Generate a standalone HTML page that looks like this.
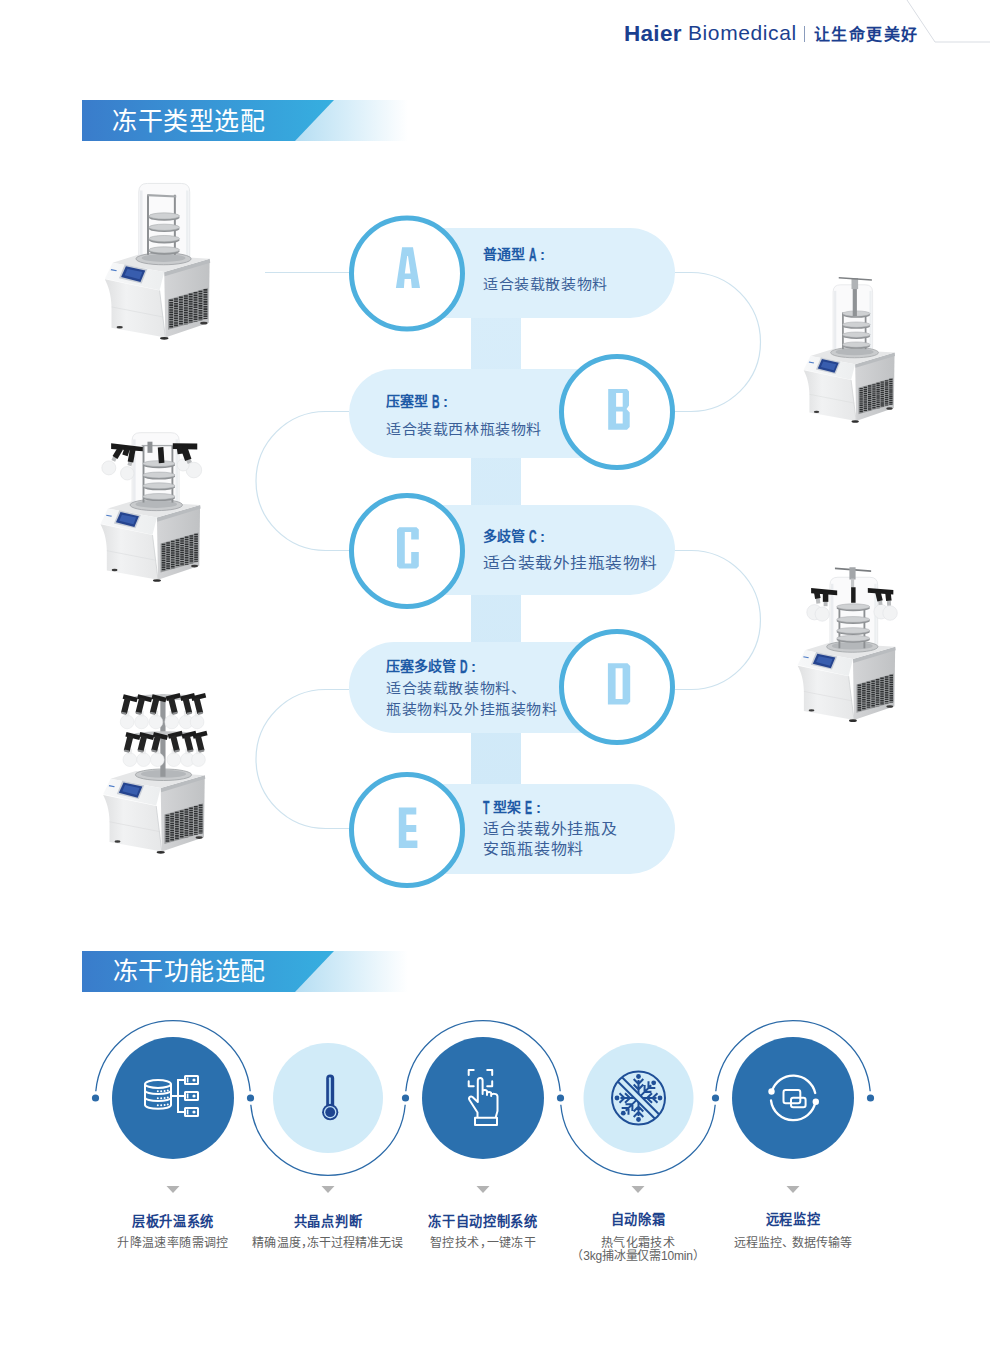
<!DOCTYPE html>
<html lang="zh-CN">
<head>
<meta charset="utf-8">
<style>
html,body{margin:0;padding:0;background:#fff;}
body{width:990px;height:1364px;position:relative;overflow:hidden;font-family:"Liberation Sans",sans-serif;}
.abs{position:absolute;white-space:nowrap;}
svg.main{position:absolute;left:0;top:0;}
.bar-t{color:#fff;font-size:25px;font-weight:300;letter-spacing:0.5px;line-height:1;}
.pt{color:#1d5aa6;font-size:14px;font-weight:900;line-height:1;}
.lt{display:inline-block;font-family:"Liberation Sans",sans-serif;font-weight:700;font-size:19px;line-height:15px;transform:scaleX(0.55);transform-origin:0 0;width:7px;margin-left:4px;vertical-align:top;-webkit-text-stroke:0.4px;}
.co{display:inline-block;margin-left:4px;font-family:"Liberation Sans",sans-serif;font-weight:700;font-size:15px;line-height:15px;vertical-align:top;}
.pd{color:#3a5f98;font-size:15px;font-weight:400;line-height:23.3px;letter-spacing:0.6px;transform:scaleY(0.9);transform-origin:0 0;}
.ft{color:#1d428c;font-size:13.2px;font-weight:900;line-height:1;letter-spacing:0.7px;text-align:center;width:200px;}
.fd{color:#626262;font-size:12px;letter-spacing:0.4px;font-weight:400;line-height:12.5px;text-align:center;width:200px;}
</style>
</head>
<body>
<svg class="main" width="990" height="1364" viewBox="0 0 990 1364">
<defs>
  <linearGradient id="barDark" x1="0" x2="1" y1="0" y2="0">
    <stop offset="0" stop-color="#3a7ccb"/>
    <stop offset="1" stop-color="#36afe0"/>
  </linearGradient>
  <linearGradient id="barLight" gradientUnits="userSpaceOnUse" x1="290" x2="408" y1="0" y2="0">
    <stop offset="0" stop-color="#b2dcf2"/>
    <stop offset="0.5" stop-color="#d8eef9"/>
    <stop offset="1" stop-color="#ffffff"/>
  </linearGradient>
  <linearGradient id="vbar" x1="0" x2="0" y1="0" y2="1">
    <stop offset="0" stop-color="#d8edfa"/>
    <stop offset="1" stop-color="#d0e9f8"/>
  </linearGradient>
</defs>

<!-- header -->
<polyline points="907,0 935,42 990,42" fill="none" stroke="#d9dde3" stroke-width="1"/>

<!-- title bar 1 -->
<polygon points="295,100 410,100 410,141 268,141" fill="url(#barLight)"/>
<polygon points="82,100 334,100 295,141 82,141" fill="url(#barDark)"/>
<!-- title bar 2 -->
<polygon points="295,951 410,951 410,992 268,992" fill="url(#barLight)"/>
<polygon points="82,951 334,951 295,992 82,992" fill="url(#barDark)"/>

<!-- timeline connectors -->
<g fill="none" stroke="#cde2ee" stroke-width="1.2">
  <line x1="265" y1="272.5" x2="350" y2="272.5"/>
  <path d="M674,272.5 H691 A69.5,69.5 0 0 1 691,411.5 H675"/>
  <path d="M349,411.5 H325.5 A69.5,69.5 0 0 0 325.5,550.5 H349"/>
  <path d="M674,550.5 H691 A69.5,69.5 0 0 1 691,689.5 H675"/>
  <path d="M349,689.5 H325.5 A69.5,69.5 0 0 0 325.5,828.5 H349"/>
</g>
<!-- vertical bar -->
<rect x="471" y="300" width="50" height="500" fill="url(#vbar)"/>
<!-- pills -->
<g fill="#ddf0fb">
  <rect x="362" y="228" width="313" height="90" rx="45"/>
  <rect x="349" y="369" width="313" height="89" rx="44.5"/>
  <rect x="362" y="505" width="313" height="90" rx="45"/>
  <rect x="349" y="642" width="313" height="91" rx="45.5"/>
  <rect x="362" y="784" width="313" height="90" rx="45"/>
</g>
<!-- circles -->
<g fill="#fff" stroke="#4eb0de" stroke-width="5">
  <circle cx="407" cy="273.5" r="55.5"/>
  <circle cx="617" cy="412" r="55.5"/>
  <circle cx="407" cy="551" r="55.5"/>
  <circle cx="617" cy="687" r="55.5"/>
  <circle cx="407" cy="830" r="55.5"/>
</g>

<!--PRODUCTS-->
<defs><linearGradient id="pSide" x1="0" x2="1" y1="0" y2="0"><stop offset="0" stop-color="#d3d4d6"/><stop offset="1" stop-color="#c0c2c4"/></linearGradient>
<linearGradient id="pPanel" x1="0" x2="1" y1="0" y2="0"><stop offset="0" stop-color="#f7f8f9"/><stop offset="1" stop-color="#eceeef"/></linearGradient>
<linearGradient id="pFront" x1="0" x2="1" y1="0" y2="0"><stop offset="0" stop-color="#dfe0e1"/><stop offset="0.35" stop-color="#f1f2f3"/><stop offset="1" stop-color="#e6e7e8"/></linearGradient></defs>
<g transform="translate(90,170) scale(0.14144)">
<polygon points="525,725 846,632 840,1080 533,1185" fill="url(#pSide)"/>
<polygon points="525,722 846,628 850,655 528,752" fill="#b9bcbf"/>
<polygon points="160,655 345,598 846,628 525,722" fill="#e6e7e8"/>
<polygon points="105,768 160,655 525,722 492,850" fill="url(#pPanel)"/>
<path d="M105,772 L492,852 L533,1185 L152,1116 L152,965 C150,880 130,820 105,772 Z" fill="url(#pFront)"/>
<path d="M492,852 L533,1185" stroke="#d0d2d4" stroke-width="6" fill="none"/>
<path d="M152,968 L520,1040" stroke="#d8d9db" stroke-width="4" fill="none"/>
<polygon points="205,765 245,668 405,702 365,802" fill="#c9ced6"/>
<polygon points="220,757 254,681 391,711 357,792" fill="#25448f"/>
<polygon points="245,745 265,700 370,722 350,772" fill="#3d64b5" opacity="0.8"/>
<polygon points="150,700 190,708 186,716 146,708" fill="#4d7cc7"/>
<polygon points="552,915 834,832 834,1050 552,1130" fill="#9a9c9e"/>
<g stroke="#2f3133" stroke-width="27" stroke-dasharray="11 6"><line x1="574" y1="916" x2="574" y2="1119"/><line x1="608" y1="906" x2="608" y2="1109"/><line x1="643" y1="895" x2="643" y2="1100"/><line x1="678" y1="885" x2="678" y2="1090"/><line x1="712" y1="874" x2="712" y2="1081"/><line x1="746" y1="863" x2="746" y2="1072"/><line x1="781" y1="853" x2="781" y2="1062"/><line x1="816" y1="842" x2="816" y2="1053"/></g>
<ellipse cx="210" cy="1112" rx="22" ry="9" fill="#3a3a3a"/>
<ellipse cx="525" cy="1190" rx="30" ry="10" fill="#2e2e2e"/>
<ellipse cx="805" cy="1083" rx="26" ry="10" fill="#3a3a3a"/>
<path d="M345,640 V155 Q345,95 405,95 H645 Q705,95 705,155 V640 Z" fill="#f5f6f7" fill-opacity="0.5" stroke="#e6e8ea" stroke-width="7"/><rect x="353" y="145" width="18" height="475" fill="#e3e6e9" opacity="0.7"/><rect x="679" y="145" width="18" height="475" fill="#e6e9ec" opacity="0.7"/>
<ellipse cx="520" cy="628" rx="195" ry="42" fill="#c9cbcd" stroke="#9fa2a5" stroke-width="6"/><ellipse cx="520" cy="622" rx="155" ry="28" fill="#b4b7ba"/>
<rect x="403" y="175" width="14" height="425" fill="#8d9093"/>
<rect x="593" y="175" width="14" height="425" fill="#8d9093"/>
<ellipse cx="525" cy="335" rx="108" ry="24" fill="#8f9295"/>
<ellipse cx="525" cy="325" rx="108" ry="22" fill="#cfd1d3" stroke="#a4a7aa" stroke-width="4"/>
<ellipse cx="525" cy="415" rx="108" ry="24" fill="#8f9295"/>
<ellipse cx="525" cy="405" rx="108" ry="22" fill="#cfd1d3" stroke="#a4a7aa" stroke-width="4"/>
<ellipse cx="525" cy="495" rx="108" ry="24" fill="#8f9295"/>
<ellipse cx="525" cy="485" rx="108" ry="22" fill="#cfd1d3" stroke="#a4a7aa" stroke-width="4"/>
<ellipse cx="525" cy="575" rx="108" ry="24" fill="#8f9295"/>
<ellipse cx="525" cy="565" rx="108" ry="22" fill="#cfd1d3" stroke="#a4a7aa" stroke-width="4"/>
<polygon points="405,170 610,180 610,195 405,185" fill="#a5a8ab"/>
</g>
<g transform="translate(790.8,275.6) scale(0.12263)">
<polygon points="525,725 846,632 840,1080 533,1185" fill="url(#pSide)"/>
<polygon points="525,722 846,628 850,655 528,752" fill="#b9bcbf"/>
<polygon points="160,655 345,598 846,628 525,722" fill="#e6e7e8"/>
<polygon points="105,768 160,655 525,722 492,850" fill="url(#pPanel)"/>
<path d="M105,772 L492,852 L533,1185 L152,1116 L152,965 C150,880 130,820 105,772 Z" fill="url(#pFront)"/>
<path d="M492,852 L533,1185" stroke="#d0d2d4" stroke-width="6" fill="none"/>
<path d="M152,968 L520,1040" stroke="#d8d9db" stroke-width="4" fill="none"/>
<polygon points="205,765 245,668 405,702 365,802" fill="#c9ced6"/>
<polygon points="220,757 254,681 391,711 357,792" fill="#25448f"/>
<polygon points="245,745 265,700 370,722 350,772" fill="#3d64b5" opacity="0.8"/>
<polygon points="150,700 190,708 186,716 146,708" fill="#4d7cc7"/>
<polygon points="552,915 834,832 834,1050 552,1130" fill="#9a9c9e"/>
<g stroke="#2f3133" stroke-width="27" stroke-dasharray="11 6"><line x1="574" y1="916" x2="574" y2="1119"/><line x1="608" y1="906" x2="608" y2="1109"/><line x1="643" y1="895" x2="643" y2="1100"/><line x1="678" y1="885" x2="678" y2="1090"/><line x1="712" y1="874" x2="712" y2="1081"/><line x1="746" y1="863" x2="746" y2="1072"/><line x1="781" y1="853" x2="781" y2="1062"/><line x1="816" y1="842" x2="816" y2="1053"/></g>
<ellipse cx="210" cy="1112" rx="22" ry="9" fill="#3a3a3a"/>
<ellipse cx="525" cy="1190" rx="30" ry="10" fill="#2e2e2e"/>
<ellipse cx="805" cy="1083" rx="26" ry="10" fill="#3a3a3a"/>
<path d="M345,620 V135 Q345,75 405,75 H607 Q667,75 667,135 V620 Z" fill="#f5f6f7" fill-opacity="0.5" stroke="#e6e8ea" stroke-width="7"/><rect x="353" y="125" width="18" height="475" fill="#e3e6e9" opacity="0.7"/><rect x="641" y="125" width="18" height="475" fill="#e6e9ec" opacity="0.7"/>
<ellipse cx="520" cy="628" rx="195" ry="42" fill="#c9cbcd" stroke="#9fa2a5" stroke-width="6"/><ellipse cx="520" cy="622" rx="155" ry="28" fill="#b4b7ba"/>
<rect x="418" y="300" width="14" height="300" fill="#8d9093"/>
<rect x="603" y="300" width="14" height="300" fill="#8d9093"/>
<ellipse cx="535" cy="320" rx="112" ry="24" fill="#8f9295"/>
<ellipse cx="535" cy="310" rx="112" ry="22" fill="#cfd1d3" stroke="#a4a7aa" stroke-width="4"/>
<ellipse cx="535" cy="410" rx="112" ry="24" fill="#8f9295"/>
<ellipse cx="535" cy="400" rx="112" ry="22" fill="#cfd1d3" stroke="#a4a7aa" stroke-width="4"/>
<ellipse cx="535" cy="492" rx="112" ry="24" fill="#8f9295"/>
<ellipse cx="535" cy="482" rx="112" ry="22" fill="#cfd1d3" stroke="#a4a7aa" stroke-width="4"/>
<ellipse cx="535" cy="573" rx="112" ry="24" fill="#8f9295"/>
<ellipse cx="535" cy="563" rx="112" ry="22" fill="#cfd1d3" stroke="#a4a7aa" stroke-width="4"/>
<rect x="505" y="30" width="34" height="300" fill="#8f9295"/>
<rect x="495" y="20" width="54" height="90" fill="#b0b3b6"/>
<polygon points="391,12 661,30 661,42 391,24" fill="#7e8184"/>
</g>
<g transform="translate(86.4,420.6) scale(0.13437)">
<polygon points="525,725 846,632 840,1080 533,1185" fill="url(#pSide)"/>
<polygon points="525,722 846,628 850,655 528,752" fill="#b9bcbf"/>
<polygon points="160,655 345,598 846,628 525,722" fill="#e6e7e8"/>
<polygon points="105,768 160,655 525,722 492,850" fill="url(#pPanel)"/>
<path d="M105,772 L492,852 L533,1185 L152,1116 L152,965 C150,880 130,820 105,772 Z" fill="url(#pFront)"/>
<path d="M492,852 L533,1185" stroke="#d0d2d4" stroke-width="6" fill="none"/>
<path d="M152,968 L520,1040" stroke="#d8d9db" stroke-width="4" fill="none"/>
<polygon points="205,765 245,668 405,702 365,802" fill="#c9ced6"/>
<polygon points="220,757 254,681 391,711 357,792" fill="#25448f"/>
<polygon points="245,745 265,700 370,722 350,772" fill="#3d64b5" opacity="0.8"/>
<polygon points="150,700 190,708 186,716 146,708" fill="#4d7cc7"/>
<polygon points="552,915 834,832 834,1050 552,1130" fill="#9a9c9e"/>
<g stroke="#2f3133" stroke-width="27" stroke-dasharray="11 6"><line x1="574" y1="916" x2="574" y2="1119"/><line x1="608" y1="906" x2="608" y2="1109"/><line x1="643" y1="895" x2="643" y2="1100"/><line x1="678" y1="885" x2="678" y2="1090"/><line x1="712" y1="874" x2="712" y2="1081"/><line x1="746" y1="863" x2="746" y2="1072"/><line x1="781" y1="853" x2="781" y2="1062"/><line x1="816" y1="842" x2="816" y2="1053"/></g>
<ellipse cx="210" cy="1112" rx="22" ry="9" fill="#3a3a3a"/>
<ellipse cx="525" cy="1190" rx="30" ry="10" fill="#2e2e2e"/>
<ellipse cx="805" cy="1083" rx="26" ry="10" fill="#3a3a3a"/>
<path d="M340,625 V150 Q340,90 400,90 H630 Q690,90 690,150 V625 Z" fill="#f5f6f7" fill-opacity="0.5" stroke="#e6e8ea" stroke-width="7"/><rect x="348" y="140" width="18" height="465" fill="#e3e6e9" opacity="0.7"/><rect x="664" y="140" width="18" height="465" fill="#e6e9ec" opacity="0.7"/>
<ellipse cx="520" cy="628" rx="195" ry="42" fill="#c9cbcd" stroke="#9fa2a5" stroke-width="6"/><ellipse cx="520" cy="622" rx="155" ry="28" fill="#b4b7ba"/>
<rect x="418" y="185" width="14" height="425" fill="#8d9093"/>
<rect x="633" y="185" width="14" height="425" fill="#8d9093"/>
<ellipse cx="540" cy="330" rx="120" ry="24" fill="#8f9295"/>
<ellipse cx="540" cy="320" rx="120" ry="22" fill="#cfd1d3" stroke="#a4a7aa" stroke-width="4"/>
<ellipse cx="540" cy="415" rx="120" ry="24" fill="#8f9295"/>
<ellipse cx="540" cy="405" rx="120" ry="22" fill="#cfd1d3" stroke="#a4a7aa" stroke-width="4"/>
<ellipse cx="540" cy="495" rx="120" ry="24" fill="#8f9295"/>
<ellipse cx="540" cy="485" rx="120" ry="22" fill="#cfd1d3" stroke="#a4a7aa" stroke-width="4"/>
<ellipse cx="540" cy="575" rx="120" ry="24" fill="#8f9295"/>
<ellipse cx="540" cy="565" rx="120" ry="22" fill="#cfd1d3" stroke="#a4a7aa" stroke-width="4"/>
<line x1="411" y1="186" x2="643" y2="186" stroke="#a8abae" stroke-width="10"/>
<circle cx="167" cy="352" r="52" fill="#f2f3f4" stroke="#e2e4e6" stroke-width="5"/>
<circle cx="304" cy="392" r="50" fill="#f2f3f4" stroke="#e2e4e6" stroke-width="5"/>
<circle cx="800" cy="368" r="58" fill="#f2f3f4" stroke="#e2e4e6" stroke-width="5"/>
<circle cx="720" cy="330" r="45" fill="#f2f3f4" stroke="#e2e4e6" stroke-width="5"/>
<line x1="213" y1="272" x2="200" y2="300" stroke="#b9bbbd" stroke-width="30"/>
<line x1="328" y1="305" x2="320" y2="335" stroke="#b9bbbd" stroke-width="30"/>
<line x1="758" y1="289" x2="770" y2="315" stroke="#b9bbbd" stroke-width="34"/>
<polygon points="184,169 420,196 420,228 184,212" fill="#1a1a1a"/>
<line x1="254" y1="206" x2="213" y2="275" stroke="#1c1c1c" stroke-width="42"/>
<line x1="304" y1="206" x2="287" y2="258" stroke="#1c1c1c" stroke-width="42"/>
<line x1="345" y1="214" x2="328" y2="308" stroke="#1c1c1c" stroke-width="42"/>
<line x1="473" y1="157" x2="473" y2="240" stroke="#8e9194" stroke-width="37"/>
<line x1="552" y1="198" x2="560" y2="316" stroke="#1c1c1c" stroke-width="42"/>
<polygon points="643,169 825,171 825,215 643,211" fill="#1a1a1a"/>
<line x1="725" y1="198" x2="758" y2="292" stroke="#1c1c1c" stroke-width="50"/>
<line x1="692" y1="190" x2="700" y2="248" stroke="#1c1c1c" stroke-width="42"/>
</g>
<g transform="translate(783.9,564.1) scale(0.13154)">
<polygon points="525,725 846,632 840,1080 533,1185" fill="url(#pSide)"/>
<polygon points="525,722 846,628 850,655 528,752" fill="#b9bcbf"/>
<polygon points="160,655 345,598 846,628 525,722" fill="#e6e7e8"/>
<polygon points="105,768 160,655 525,722 492,850" fill="url(#pPanel)"/>
<path d="M105,772 L492,852 L533,1185 L152,1116 L152,965 C150,880 130,820 105,772 Z" fill="url(#pFront)"/>
<path d="M492,852 L533,1185" stroke="#d0d2d4" stroke-width="6" fill="none"/>
<path d="M152,968 L520,1040" stroke="#d8d9db" stroke-width="4" fill="none"/>
<polygon points="205,765 245,668 405,702 365,802" fill="#c9ced6"/>
<polygon points="220,757 254,681 391,711 357,792" fill="#25448f"/>
<polygon points="245,745 265,700 370,722 350,772" fill="#3d64b5" opacity="0.8"/>
<polygon points="150,700 190,708 186,716 146,708" fill="#4d7cc7"/>
<polygon points="552,915 834,832 834,1050 552,1130" fill="#9a9c9e"/>
<g stroke="#2f3133" stroke-width="27" stroke-dasharray="11 6"><line x1="574" y1="916" x2="574" y2="1119"/><line x1="608" y1="906" x2="608" y2="1109"/><line x1="643" y1="895" x2="643" y2="1100"/><line x1="678" y1="885" x2="678" y2="1090"/><line x1="712" y1="874" x2="712" y2="1081"/><line x1="746" y1="863" x2="746" y2="1072"/><line x1="781" y1="853" x2="781" y2="1062"/><line x1="816" y1="842" x2="816" y2="1053"/></g>
<ellipse cx="210" cy="1112" rx="22" ry="9" fill="#3a3a3a"/>
<ellipse cx="525" cy="1190" rx="30" ry="10" fill="#2e2e2e"/>
<ellipse cx="805" cy="1083" rx="26" ry="10" fill="#3a3a3a"/>
<path d="M350,650 V160 Q350,100 410,100 H653 Q713,100 713,160 V650 Z" fill="#f5f6f7" fill-opacity="0.5" stroke="#e6e8ea" stroke-width="7"/><rect x="358" y="150" width="18" height="480" fill="#e3e6e9" opacity="0.7"/><rect x="687" y="150" width="18" height="480" fill="#e6e9ec" opacity="0.7"/>
<ellipse cx="520" cy="628" rx="195" ry="42" fill="#c9cbcd" stroke="#9fa2a5" stroke-width="6"/><ellipse cx="520" cy="622" rx="155" ry="28" fill="#b4b7ba"/>
<rect x="415" y="320" width="14" height="320" fill="#8d9093"/>
<rect x="605" y="320" width="14" height="320" fill="#8d9093"/>
<ellipse cx="527" cy="334" rx="126" ry="24" fill="#8f9295"/>
<ellipse cx="527" cy="324" rx="126" ry="22" fill="#cfd1d3" stroke="#a4a7aa" stroke-width="4"/>
<ellipse cx="527" cy="431" rx="126" ry="24" fill="#8f9295"/>
<ellipse cx="527" cy="421" rx="126" ry="22" fill="#cfd1d3" stroke="#a4a7aa" stroke-width="4"/>
<ellipse cx="527" cy="515" rx="126" ry="24" fill="#8f9295"/>
<ellipse cx="527" cy="505" rx="126" ry="22" fill="#cfd1d3" stroke="#a4a7aa" stroke-width="4"/>
<ellipse cx="527" cy="574" rx="126" ry="24" fill="#8f9295"/>
<ellipse cx="527" cy="564" rx="126" ry="22" fill="#cfd1d3" stroke="#a4a7aa" stroke-width="4"/>
<polygon points="388,26 663,47 663,60 388,39" fill="#7a7d80"/>
<rect x="498" y="24" width="47" height="93" fill="#a3a6a9"/>
<rect x="510" y="110" width="24" height="70" fill="#c4c6c8"/>
<rect x="511" y="176" width="34" height="118" fill="#1c1c1c"/>
<circle cx="232" cy="366" r="58" fill="#f2f3f4" stroke="#e2e4e6" stroke-width="5"/>
<circle cx="291" cy="380" r="54" fill="#f2f3f4" stroke="#e2e4e6" stroke-width="5"/>
<circle cx="739" cy="362" r="55" fill="#f2f3f4" stroke="#e2e4e6" stroke-width="5"/>
<circle cx="807" cy="372" r="55" fill="#f2f3f4" stroke="#e2e4e6" stroke-width="5"/>
<line x1="257" y1="260" x2="262" y2="300" stroke="#b9bbbd" stroke-width="30"/>
<line x1="317" y1="285" x2="317" y2="320" stroke="#b9bbbd" stroke-width="30"/>
<line x1="731" y1="277" x2="735" y2="310" stroke="#b9bbbd" stroke-width="30"/>
<line x1="798" y1="277" x2="800" y2="315" stroke="#b9bbbd" stroke-width="30"/>
<polygon points="207,182 405,200 405,236 207,222" fill="#1a1a1a"/>
<line x1="249" y1="209" x2="258" y2="262" stroke="#1c1c1c" stroke-width="42"/>
<line x1="317" y1="209" x2="317" y2="287" stroke="#1c1c1c" stroke-width="42"/>
<polygon points="638,182 832,196 832,232 638,218" fill="#1a1a1a"/>
<line x1="714" y1="209" x2="731" y2="279" stroke="#1c1c1c" stroke-width="42"/>
<line x1="790" y1="209" x2="798" y2="279" stroke="#1c1c1c" stroke-width="42"/>
</g>
<g transform="translate(88.7,689) scale(0.1372)">
<polygon points="525,725 846,632 840,1080 533,1185" fill="url(#pSide)"/>
<polygon points="525,722 846,628 850,655 528,752" fill="#b9bcbf"/>
<polygon points="160,655 345,598 846,628 525,722" fill="#e6e7e8"/>
<polygon points="105,768 160,655 525,722 492,850" fill="url(#pPanel)"/>
<path d="M105,772 L492,852 L533,1185 L152,1116 L152,965 C150,880 130,820 105,772 Z" fill="url(#pFront)"/>
<path d="M492,852 L533,1185" stroke="#d0d2d4" stroke-width="6" fill="none"/>
<path d="M152,968 L520,1040" stroke="#d8d9db" stroke-width="4" fill="none"/>
<polygon points="205,765 245,668 405,702 365,802" fill="#c9ced6"/>
<polygon points="220,757 254,681 391,711 357,792" fill="#25448f"/>
<polygon points="245,745 265,700 370,722 350,772" fill="#3d64b5" opacity="0.8"/>
<polygon points="150,700 190,708 186,716 146,708" fill="#4d7cc7"/>
<polygon points="552,915 834,832 834,1050 552,1130" fill="#9a9c9e"/>
<g stroke="#2f3133" stroke-width="27" stroke-dasharray="11 6"><line x1="574" y1="916" x2="574" y2="1119"/><line x1="608" y1="906" x2="608" y2="1109"/><line x1="643" y1="895" x2="643" y2="1100"/><line x1="678" y1="885" x2="678" y2="1090"/><line x1="712" y1="874" x2="712" y2="1081"/><line x1="746" y1="863" x2="746" y2="1072"/><line x1="781" y1="853" x2="781" y2="1062"/><line x1="816" y1="842" x2="816" y2="1053"/></g>
<ellipse cx="210" cy="1112" rx="22" ry="9" fill="#3a3a3a"/>
<ellipse cx="525" cy="1190" rx="30" ry="10" fill="#2e2e2e"/>
<ellipse cx="805" cy="1083" rx="26" ry="10" fill="#3a3a3a"/>
<ellipse cx="545" cy="625" rx="205" ry="42" fill="#c9cbcd" stroke="#9fa2a5" stroke-width="6"/><ellipse cx="545" cy="619" rx="165" ry="28" fill="#b4b7ba"/>
<rect x="522" y="40" width="38" height="600" fill="#94979a"/>
<ellipse cx="560" cy="60" rx="230" ry="22" fill="#c4c6c8"/>
<ellipse cx="560" cy="330" rx="230" ry="22" fill="#c4c6c8"/>
<circle cx="280" cy="240" r="50" fill="#f3f4f5" stroke="#e4e6e8" stroke-width="4"/>
<rect x="264" y="160" width="32" height="40" fill="#ebeced"/>
<g transform="rotate(14 280 85)">
<rect x="245" y="45" width="105" height="34" fill="#1c1c1c"/>
<rect x="258" y="65" width="44" height="115" fill="#242424"/>
<rect x="262" y="172" width="36" height="16" fill="#8a8c8e"/>
</g>
<circle cx="385" cy="240" r="50" fill="#f3f4f5" stroke="#e4e6e8" stroke-width="4"/>
<rect x="369" y="160" width="32" height="40" fill="#ebeced"/>
<g transform="rotate(14 385 85)">
<rect x="350" y="45" width="105" height="34" fill="#1c1c1c"/>
<rect x="363" y="65" width="44" height="115" fill="#242424"/>
<rect x="367" y="172" width="36" height="16" fill="#8a8c8e"/>
</g>
<circle cx="490" cy="240" r="50" fill="#f3f4f5" stroke="#e4e6e8" stroke-width="4"/>
<rect x="474" y="160" width="32" height="40" fill="#ebeced"/>
<g transform="rotate(14 490 85)">
<rect x="455" y="45" width="105" height="34" fill="#1c1c1c"/>
<rect x="468" y="65" width="44" height="115" fill="#242424"/>
<rect x="472" y="172" width="36" height="16" fill="#8a8c8e"/>
</g>
<circle cx="605" cy="240" r="50" fill="#f3f4f5" stroke="#e4e6e8" stroke-width="4"/>
<rect x="589" y="160" width="32" height="40" fill="#ebeced"/>
<g transform="rotate(-14 605 85)">
<rect x="570" y="45" width="105" height="34" fill="#1c1c1c"/>
<rect x="583" y="65" width="44" height="115" fill="#242424"/>
<rect x="587" y="172" width="36" height="16" fill="#8a8c8e"/>
</g>
<circle cx="710" cy="240" r="50" fill="#f3f4f5" stroke="#e4e6e8" stroke-width="4"/>
<rect x="694" y="160" width="32" height="40" fill="#ebeced"/>
<g transform="rotate(-14 710 85)">
<rect x="675" y="45" width="105" height="34" fill="#1c1c1c"/>
<rect x="688" y="65" width="44" height="115" fill="#242424"/>
<rect x="692" y="172" width="36" height="16" fill="#8a8c8e"/>
</g>
<circle cx="790" cy="240" r="50" fill="#f3f4f5" stroke="#e4e6e8" stroke-width="4"/>
<rect x="774" y="160" width="32" height="40" fill="#ebeced"/>
<g transform="rotate(-14 790 85)">
<rect x="755" y="45" width="105" height="34" fill="#1c1c1c"/>
<rect x="768" y="65" width="44" height="115" fill="#242424"/>
<rect x="772" y="172" width="36" height="16" fill="#8a8c8e"/>
</g>
<circle cx="300" cy="515" r="50" fill="#f3f4f5" stroke="#e4e6e8" stroke-width="4"/>
<rect x="284" y="435" width="32" height="40" fill="#ebeced"/>
<g transform="rotate(14 300 360)">
<rect x="265" y="320" width="105" height="34" fill="#1c1c1c"/>
<rect x="278" y="340" width="44" height="115" fill="#242424"/>
<rect x="282" y="447" width="36" height="16" fill="#8a8c8e"/>
</g>
<circle cx="400" cy="515" r="50" fill="#f3f4f5" stroke="#e4e6e8" stroke-width="4"/>
<rect x="384" y="435" width="32" height="40" fill="#ebeced"/>
<g transform="rotate(14 400 360)">
<rect x="365" y="320" width="105" height="34" fill="#1c1c1c"/>
<rect x="378" y="340" width="44" height="115" fill="#242424"/>
<rect x="382" y="447" width="36" height="16" fill="#8a8c8e"/>
</g>
<circle cx="500" cy="515" r="50" fill="#f3f4f5" stroke="#e4e6e8" stroke-width="4"/>
<rect x="484" y="435" width="32" height="40" fill="#ebeced"/>
<g transform="rotate(14 500 360)">
<rect x="465" y="320" width="105" height="34" fill="#1c1c1c"/>
<rect x="478" y="340" width="44" height="115" fill="#242424"/>
<rect x="482" y="447" width="36" height="16" fill="#8a8c8e"/>
</g>
<circle cx="620" cy="515" r="50" fill="#f3f4f5" stroke="#e4e6e8" stroke-width="4"/>
<rect x="604" y="435" width="32" height="40" fill="#ebeced"/>
<g transform="rotate(-14 620 360)">
<rect x="585" y="320" width="105" height="34" fill="#1c1c1c"/>
<rect x="598" y="340" width="44" height="115" fill="#242424"/>
<rect x="602" y="447" width="36" height="16" fill="#8a8c8e"/>
</g>
<circle cx="720" cy="515" r="50" fill="#f3f4f5" stroke="#e4e6e8" stroke-width="4"/>
<rect x="704" y="435" width="32" height="40" fill="#ebeced"/>
<g transform="rotate(-14 720 360)">
<rect x="685" y="320" width="105" height="34" fill="#1c1c1c"/>
<rect x="698" y="340" width="44" height="115" fill="#242424"/>
<rect x="702" y="447" width="36" height="16" fill="#8a8c8e"/>
</g>
<circle cx="800" cy="515" r="50" fill="#f3f4f5" stroke="#e4e6e8" stroke-width="4"/>
<rect x="784" y="435" width="32" height="40" fill="#ebeced"/>
<g transform="rotate(-14 800 360)">
<rect x="765" y="320" width="105" height="34" fill="#1c1c1c"/>
<rect x="778" y="340" width="44" height="115" fill="#242424"/>
<rect x="782" y="447" width="36" height="16" fill="#8a8c8e"/>
</g>
</g>
<!--/PRODUCTS-->
<!-- letters -->
<g fill="#a0d5f3" fill-rule="evenodd">
  <path d="M402.1,247.3 H413 L420,288 H411.8 L410.9,279.1 H404.6 L403.9,288 H395.9 Z M407.2,256.1 H408 L410.5,273.6 H404.8 Z"/>
  <path d="M608.2,389.1 H627 L629,391.5 V405.5 L626.5,409 L629.7,412.5 V427 L627,429.7 H608.2 Z M616.1,393 V406.7 H622.7 V393 Z M616.1,411.5 V423.6 H622.7 V411.5 Z"/>
  <path d="M399.3,527.3 H416.5 L418.8,529.6 V539.4 H411.2 V532.1 H404.8 V563.6 H411.2 V552.1 H418.8 V566.2 L416.5,568.5 H399.3 L397,566.2 V529.6 Z"/>
  <path d="M607.9,663.3 H627.5 L630.2,666 V701.8 L627.5,704.5 H607.9 Z M615.6,668.2 V698.9 H622.6 V668.2 Z"/>
  <path d="M398.8,807.4 H416.3 V814.4 H406.3 V824.9 H416.3 V831.9 H406.3 V840.5 H417.4 V848.1 H398.8 Z"/>
</g>

<!-- function section -->
<g fill="none" stroke="#2b6aa8" stroke-width="1.3">
  <path d="M95.8,1091.25 A77.5,77.5 0 0 1 250.2,1091.25"/>
  <path d="M250.8,1104.75 A77.5,77.5 0 0 0 405.2,1104.75"/>
  <path d="M405.8,1091.25 A77.5,77.5 0 0 1 560.2,1091.25"/>
  <path d="M560.8,1104.75 A77.5,77.5 0 0 0 715.2,1104.75"/>
  <path d="M715.8,1091.25 A77.5,77.5 0 0 1 870.2,1091.25"/>
</g>
<g fill="#2b6aa8">
  <circle cx="95.5" cy="1098" r="3.6"/><circle cx="250.5" cy="1098" r="3.6"/><circle cx="405.5" cy="1098" r="3.6"/>
  <circle cx="560.5" cy="1098" r="3.6"/><circle cx="715.5" cy="1098" r="3.6"/><circle cx="870.5" cy="1098" r="3.6"/>
</g>
<circle cx="173" cy="1098" r="61" fill="#2b70ae"/>
<circle cx="328" cy="1098" r="55" fill="#d1ebf8"/>
<circle cx="483" cy="1098" r="61" fill="#2b70ae"/>
<circle cx="638.5" cy="1098" r="55" fill="#d1ebf8"/>
<circle cx="793" cy="1098" r="61" fill="#2b70ae"/>
<g fill="#b3b3b3">
  <polygon points="166.5,1186 179.5,1186 173,1193"/>
  <polygon points="321.5,1186 334.5,1186 328,1193"/>
  <polygon points="476.5,1186 489.5,1186 483,1193"/>
  <polygon points="631.5,1186 644.5,1186 638,1193"/>
  <polygon points="786.5,1186 799.5,1186 793,1193"/>
</g>
<!-- icon 1 database -->
<g fill="none" stroke="#fff" stroke-width="2">
  <ellipse cx="158" cy="1084" rx="13" ry="4"/>
  <path d="M145,1084 V1105 A13,3.8 0 0 0 171,1105 V1084"/>
  <path d="M145,1090.5 A13,3.6 0 0 0 171,1090.5"/>
  <path d="M145,1097.5 A13,3.6 0 0 0 171,1097.5"/>
  <path d="M171,1096 H178 M184.5,1080 H178 V1112 H184.5 M178,1096 H184.5"/>
  <rect x="185" y="1076" width="13" height="8" rx="0.5"/>
  <rect x="185" y="1092" width="13" height="8" rx="0.5"/>
  <rect x="185" y="1108" width="13" height="8" rx="0.5"/>
</g>
<g fill="#fff">
  <rect x="186.8" y="1077.5" width="1.6" height="5"/><circle cx="194" cy="1080" r="1.6"/>
  <rect x="186.8" y="1093.5" width="1.6" height="5"/><circle cx="194" cy="1096" r="1.6"/>
  <rect x="186.8" y="1109.5" width="1.6" height="5"/><circle cx="194" cy="1112" r="1.6"/>
  <circle cx="157.8" cy="1091.2" r="1"/><circle cx="161.2" cy="1091.2" r="1"/><circle cx="164.6" cy="1091" r="1"/><circle cx="167.8" cy="1090.6" r="1"/>
  <circle cx="157.8" cy="1098.2" r="1"/><circle cx="161.2" cy="1098.2" r="1"/><circle cx="164.6" cy="1098" r="1"/><circle cx="167.8" cy="1097.6" r="1"/>
  <circle cx="157.8" cy="1105.2" r="1"/><circle cx="161.2" cy="1105.2" r="1"/><circle cx="164.6" cy="1105" r="1"/><circle cx="167.8" cy="1104.6" r="1"/>
</g>
<!-- icon 2 thermometer -->
<g>
  <rect x="326.2" y="1074.5" width="8" height="34" rx="4" fill="#1e4590"/>
  <rect x="328.9" y="1077.3" width="2" height="27" rx="1" fill="#a9d3f3"/>
  <circle cx="330.2" cy="1112.2" r="8.1" fill="#1e4590"/>
  <circle cx="330.2" cy="1112.2" r="6.2" fill="#bfe0f7"/>
  <circle cx="330.2" cy="1112.2" r="4.9" fill="#1e4590"/>
</g>
<!-- icon 3 hand -->
<g fill="none" stroke="#fff" stroke-width="2" stroke-linejoin="round" stroke-linecap="round">
  <path d="M468.7,1075 V1070 H473.7 M487.2,1070 H492.2 V1075 M468.7,1081.3 V1086.3 H473.7 M492.2,1081.3 V1086.3 H487.2"/>
  <path d="M477.5,1117 V1112.5 L469.5,1100 C468,1097.5 470.5,1095.5 472.5,1097 L477.8,1102 V1080.5 C477.8,1077 482.6,1077 482.6,1080.5 V1094 V1091.5 C482.6,1089.5 487,1089.5 487,1091.5 V1095 V1093.5 C487,1091.5 491.2,1091.5 491.2,1093.5 V1096 V1095 C491.2,1093.5 497.5,1093 497.5,1096.5 V1111 L495.8,1117"/>
  <rect x="475" y="1117.8" width="22" height="7.2"/>
</g>
<!-- icon 4 snowflake -->
<g fill="none" stroke="#1f4f97" stroke-width="2" stroke-linejoin="miter"><path d="M638.50,1095.00 L638.50,1080.00 M643.30,1084.50 L638.50,1089.50 L633.70,1084.50 M643.30,1079.00 L638.50,1084.00 L633.70,1079.00 M638.50,1101.00 L638.50,1116.00 M633.70,1111.50 L638.50,1106.50 L643.30,1111.50 M633.70,1117.00 L638.50,1112.00 L643.30,1117.00 M635.50,1098.00 L620.50,1098.00 M625.00,1093.20 L630.00,1098.00 L625.00,1102.80 M619.50,1093.20 L624.50,1098.00 L619.50,1102.80 M641.50,1098.00 L656.50,1098.00 M652.00,1102.80 L647.00,1098.00 L652.00,1093.20 M657.50,1102.80 L652.50,1098.00 L657.50,1093.20 M640.62,1095.88 L651.23,1085.27 M651.44,1091.85 L644.51,1091.99 L644.65,1085.06 M655.33,1087.96 L648.40,1088.10 L648.54,1081.17 M636.38,1100.12 L625.77,1110.73 M625.56,1104.15 L632.49,1104.01 L632.35,1110.94 M621.67,1108.04 L628.60,1107.90 L628.46,1114.83"/></g><g fill="#1f4f97"><circle cx="638.50" cy="1076.50" r="2.4"/><circle cx="638.50" cy="1119.50" r="2.4"/><circle cx="617.00" cy="1098.00" r="2.4"/><circle cx="660.00" cy="1098.00" r="2.4"/><circle cx="653.70" cy="1082.80" r="2.4"/><circle cx="623.30" cy="1113.20" r="2.4"/></g><polygon points="622.00,1077.26 659.24,1114.50 655.00,1118.74 617.76,1081.50" fill="#d1ebf8"/><path d="M622.00,1077.26 L659.24,1114.50 M617.76,1081.50 L655.00,1118.74" stroke="#1f4f97" stroke-width="2" fill="none"/>
<g fill="none" stroke="#1f4f97" stroke-width="2">
  <circle cx="638.5" cy="1098" r="26.5"/>
</g>
<!-- icon 5 remote -->
<g fill="none" stroke="#fff" stroke-width="2.3" stroke-linecap="round">
  <path d="M771.8,1091.5 A22.5,22.5 0 0 1 815.2,1093"/>
  <path d="M815.5,1101.5 A22.5,22.5 0 0 1 771,1100.5"/>
  <rect x="783.5" y="1090" width="16.8" height="13.3" rx="2.2" stroke-width="2"/>
  <rect x="791" y="1097.7" width="14.6" height="9.6" rx="2.2" stroke-width="2"/>
</g>
<g fill="#fff"><circle cx="771.5" cy="1091.5" r="3.2"/><circle cx="815.8" cy="1101.8" r="3.2"/></g>
</svg>

<!-- header text -->
<div class="abs" style="left:624px;top:20.5px;font-size:22.5px;line-height:26px;color:#1b3f8f;font-weight:700;letter-spacing:0.3px;">Haier</div>
<div class="abs" style="left:688px;top:20px;font-size:21px;line-height:26px;color:#1b3f8f;letter-spacing:0.6px;">Biomedical</div>
<div class="abs" style="left:803.5px;top:26px;width:1.5px;height:16px;background:#8a9cbc;"></div>
<div class="abs" style="left:813.5px;top:22.5px;font-size:16px;line-height:24px;color:#1b3f8f;font-weight:900;letter-spacing:1.5px;">让生命更美好</div>

<!-- bar titles -->
<div class="abs bar-t" style="left:112px;top:108.5px;">冻干类型选配</div>
<div class="abs bar-t" style="left:112.5px;top:959px;">冻干功能选配</div>

<!-- pill texts -->
<div class="abs pt" style="left:483px;top:246.5px;">普通型<span class="lt">A</span><span class="co">:</span></div>
<div class="abs pd" style="left:483px;top:273.5px;">适合装载散装物料</div>
<div class="abs pt" style="left:386px;top:393.5px;">压塞型<span class="lt">B</span><span class="co">:</span></div>
<div class="abs pd" style="left:386px;top:419px;">适合装载西林瓶装物料</div>
<div class="abs pt" style="left:483px;top:528.5px;">多歧管<span class="lt">C</span><span class="co">:</span></div>
<div class="abs pd" style="left:483px;top:553px;font-size:16.8px;letter-spacing:0.45px;">适合装载外挂瓶装物料</div>
<div class="abs pt" style="left:386px;top:659px;">压塞多歧管<span class="lt">D</span><span class="co">:</span></div>
<div class="abs pd" style="left:386px;top:677.5px;">适合装载散装物料、<br>瓶装物料及外挂瓶装物料</div>
<div class="abs pt" style="left:483px;top:799.5px;"><span class="lt" style="margin-left:0;margin-right:3px">T</span>型架<span class="lt">E</span><span class="co">:</span></div>
<div class="abs pd" style="left:483px;top:820px;font-size:16px;letter-spacing:0.9px;line-height:22.3px;">适合装载外挂瓶及<br>安瓿瓶装物料</div>

<!-- function texts -->
<div class="abs ft" style="left:73px;top:1215px;">层板升温系统</div>
<div class="abs fd" style="left:73px;top:1237px;">升降温速率随需调控</div>
<div class="abs ft" style="left:228px;top:1215px;">共晶点判断</div>
<div class="abs fd" style="left:228px;top:1237px;letter-spacing:0.1px;">精确温度<span style="letter-spacing:-6px">，</span>冻干过程精准无误</div>
<div class="abs ft" style="left:383px;top:1215px;">冻干自动控制系统</div>
<div class="abs fd" style="left:383px;top:1237px;">智控技术<span style="letter-spacing:-5px">，</span>一键冻干</div>
<div class="abs ft" style="left:538px;top:1213px;">自动除霜</div>
<div class="abs fd" style="left:538px;top:1237px;"><span style="display:block;line-height:13px">热气化霜技术</span><span style="letter-spacing:-0.2px">（3kg捕冰量仅需10min）</span></div>
<div class="abs ft" style="left:693px;top:1213px;">远程监控</div>
<div class="abs fd" style="left:693px;top:1237px;letter-spacing:0.1px;">远程监控<span style="letter-spacing:-2px">、</span>数据传输等</div>
</body>
</html>
